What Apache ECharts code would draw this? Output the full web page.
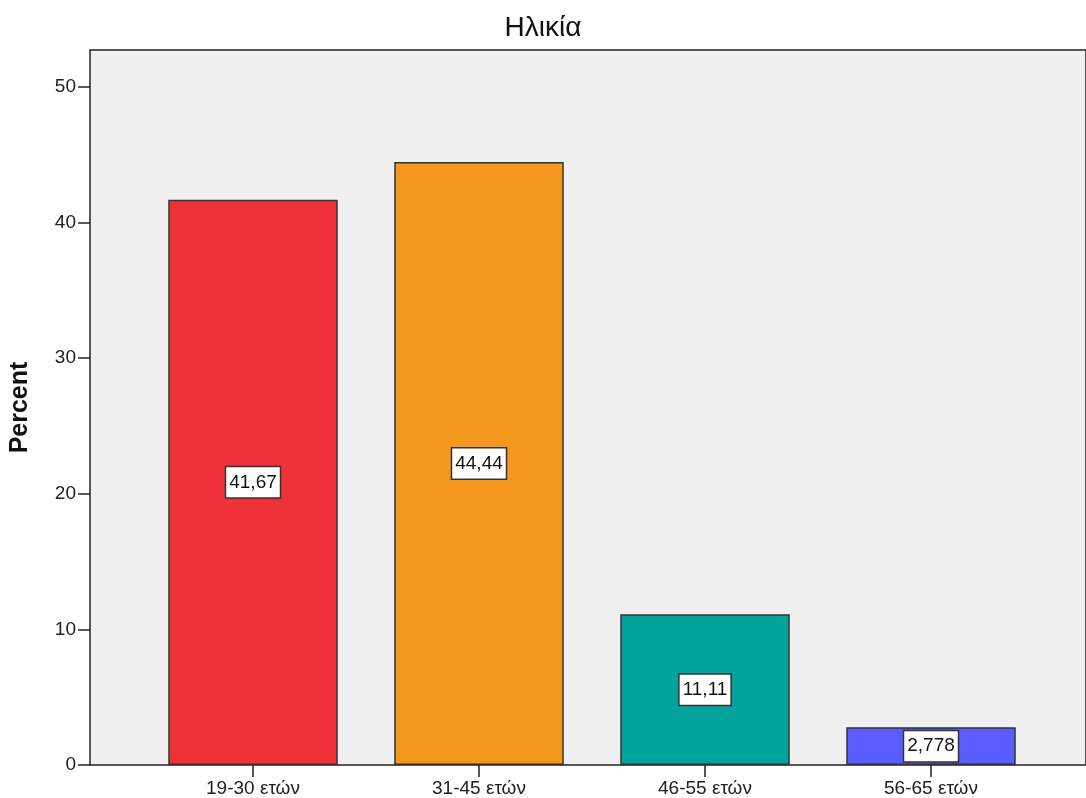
<!DOCTYPE html>
<html>
<head>
<meta charset="utf-8">
<script src="https://cdn.jsdelivr.net/npm/echarts@6/dist/echarts.min.js"></script>
<style>
html,body{margin:0;padding:0;background:#fff;}
#chart{width:1086px;height:798px;}
</style>
</head>
<body>
<div id="chart"></div>
<script>
const categories = ['19-30 ετών', '31-45 ετών', '46-55 ετών', '56-65 ετών'];
const percentValues = [41.67, 44.44, 11.11, 2.778];
const valueLabels = ['41,67', '44,44', '11,11', '2,778'];
const barColors = ['#EF3138', '#F7981E', '#00A49C', '#5A5CFF'];
const yTicks = [0, 10, 20, 30, 40, 50];
const yMax = 52.7;

const chart = echarts.init(document.getElementById('chart'), null, {renderer: 'canvas'});
const font = 'Liberation Sans, Arial, sans-serif';

chart.setOption({
  animation: false,
  title: {
    text: 'Ηλικία',
    left: 'center',
    top: 9,
    textStyle: {fontFamily: font, fontSize: 28, fontWeight: 'normal', color: '#111'}
  },
  grid: [
    {left: 140, right: 42, top: 50, bottom: 33, show: false},
    {left: 89, right: -2, top: 50, bottom: 33, show: true, backgroundColor: '#F0F0F0', borderColor: '#222', borderWidth: 1.5}
  ],
  xAxis: [
    {
      type: 'category', gridIndex: 0, data: categories,
      axisLine: {show: false},
      axisTick: {show: true, alignWithLabel: true, length: 12, lineStyle: {color: '#222', width: 1.5}},
      axisLabel: {margin: 14, fontFamily: font, fontSize: 19, color: '#222'}
    },
    {type: 'value', gridIndex: 1, show: false, min: 0, max: 1}
  ],
  yAxis: [
    {type: 'value', gridIndex: 0, min: 0, max: yMax, show: false},
    {
      type: 'value', gridIndex: 1, min: 0, max: yMax, interval: 10,
      name: 'Percent', nameLocation: 'middle', nameGap: 57,
      nameTextStyle: {fontFamily: font, fontSize: 25, fontWeight: 'bold', color: '#111'},
      axisLine: {show: false},
      splitLine: {show: false},
      axisTick: {show: true, length: 12, customValues: yTicks, lineStyle: {color: '#222', width: 1.5}},
      axisLabel: {margin: 14, customValues: yTicks, fontFamily: font, fontSize: 19, color: '#222'}
    }
  ],
  series: [{
    type: 'bar',
    xAxisIndex: 0, yAxisIndex: 0,
    barWidth: '75%',
    data: percentValues.map((v, i) => ({
      value: v,
      itemStyle: {color: barColors[i], borderColor: '#333', borderWidth: 1.5}
    })),
    label: {
      show: true,
      position: 'inside',
      formatter: p => valueLabels[p.dataIndex],
      fontFamily: font, fontSize: 19, color: '#111',
      backgroundColor: '#fff', borderColor: '#333', borderWidth: 1.5,
      padding: [6, 3, 5, 3]
    }
  }]
});
</script>
</body>
</html>
